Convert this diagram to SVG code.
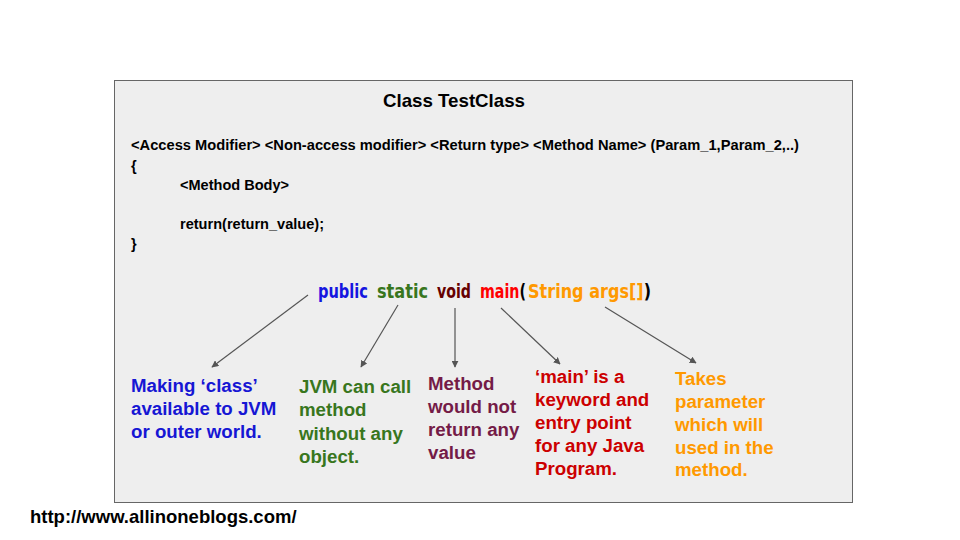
<svg xmlns="http://www.w3.org/2000/svg" width="960" height="540" viewBox="0 0 960 540">
<defs>
<marker id="ah" viewBox="0 0 10 10" refX="9" refY="5" markerWidth="7" markerHeight="7" markerUnits="userSpaceOnUse" orient="auto">
<path d="M0,0 L10,5 L0,10 z" fill="#555"/>
</marker>
<style>
.code{font-family:"Liberation Sans",Arial,sans-serif;font-weight:bold;font-size:14.5px;fill:#000}
.lbl{font-family:"Liberation Sans",Arial,sans-serif;font-weight:bold;font-size:18.7px}
.sig{font-family:"Comic Sans MS","DejaVu Sans",sans-serif;font-weight:bold;font-size:19px}
.conn line{stroke:#555;stroke-width:1.2;marker-end:url(#ah)}
</style>
</defs>
<rect width="960" height="540" fill="#ffffff"/>
<g id="classbox">
<rect x="114.5" y="80.5" width="738" height="422" fill="#eeeeee" stroke="#666" stroke-width="1"/>
<text x="454" y="107" text-anchor="middle" font-family="Liberation Sans,Arial,sans-serif" font-weight="bold" font-size="18.5" fill="#000" textLength="142" lengthAdjust="spacingAndGlyphs">Class TestClass</text>
<text class="code" x="131" y="150" textLength="668" lengthAdjust="spacingAndGlyphs">&lt;Access Modifier&gt; &lt;Non-access modifier&gt; &lt;Return type&gt; &lt;Method Name&gt; (Param_1,Param_2,..)</text>
<text class="code" x="131" y="171">{</text>
<text class="code" x="180" y="190" textLength="109" lengthAdjust="spacingAndGlyphs">&lt;Method Body&gt;</text>
<text class="code" x="180" y="229" textLength="144" lengthAdjust="spacingAndGlyphs">return(return_value);</text>
<text class="code" x="131" y="249">}</text>
</g>
<g id="signature" class="sig">
<text x="318" y="298" fill="#1515e0" textLength="50" lengthAdjust="spacingAndGlyphs">public</text>
<text x="377" y="298" fill="#38761d" textLength="51" lengthAdjust="spacingAndGlyphs">static</text>
<text x="437" y="298" fill="#660000" textLength="34" lengthAdjust="spacingAndGlyphs">void</text>
<text x="480" y="298" textLength="46" lengthAdjust="spacingAndGlyphs"><tspan fill="#ff0000">main</tspan><tspan fill="#000">(</tspan></text>
<text x="528" y="298" textLength="123" lengthAdjust="spacingAndGlyphs"><tspan fill="#ff9900">String args[]</tspan><tspan fill="#000">)</tspan></text>
</g>
<g id="connectors" class="conn">
<line x1="308" y1="295" x2="212" y2="367"/>
<line x1="398" y1="305" x2="361" y2="367"/>
<line x1="455" y1="308" x2="455" y2="367"/>
<line x1="501" y1="308" x2="560" y2="364"/>
<line x1="605" y1="307" x2="696" y2="363"/>
</g>
<g id="note-public" class="lbl" fill="#1616d4">
<text x="131" y="392">Making ‘class’</text>
<text x="131" y="415">available to JVM</text>
<text x="131" y="438">or outer world.</text>
</g>
<g id="note-static" class="lbl" fill="#38761d">
<text x="299" y="393">JVM can call</text>
<text x="299" y="416">method</text>
<text x="299" y="440">without any</text>
<text x="299" y="463">object.</text>
</g>
<g id="note-void" class="lbl" fill="#741b47">
<text x="428" y="390">Method</text>
<text x="428" y="413">would not</text>
<text x="428" y="436">return any</text>
<text x="428" y="459">value</text>
</g>
<g id="note-main" class="lbl" fill="#cc0000">
<text x="535" y="383">‘main’ is a</text>
<text x="535" y="406">keyword and</text>
<text x="535" y="429">entry point</text>
<text x="535" y="452">for any Java</text>
<text x="535" y="475">Program.</text>
</g>
<g id="note-args" class="lbl" fill="#ff9900">
<text x="675" y="385">Takes</text>
<text x="675" y="408">parameter</text>
<text x="675" y="431">which will</text>
<text x="675" y="454">used in the</text>
<text x="675" y="476">method.</text>
</g>
<g id="footer">
<text x="30" y="523" font-family="Liberation Sans,Arial,sans-serif" font-weight="bold" font-size="18.5" fill="#000">http://www.allinoneblogs.com/</text>
</g>
</svg>
